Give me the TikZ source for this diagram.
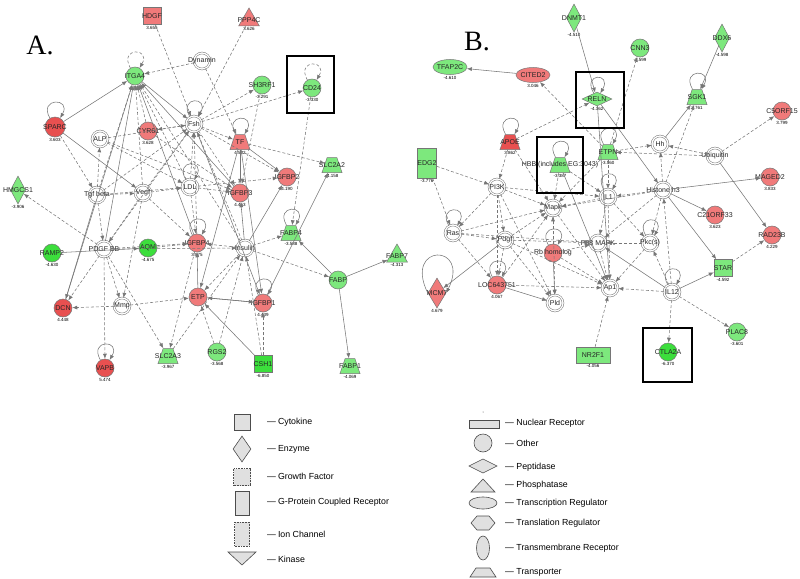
\documentclass[tikz,border=0pt]{standalone}
\usepackage{fontspec}
\setmainfont{Liberation Sans}
\newfontfamily\panelfont{Liberation Serif}
\usetikzlibrary{positioning,shapes.geometric,arrows.meta,calc}
\definecolor{upreg}{RGB}{240,122,122}
\definecolor{upstrong}{RGB}{232,80,80}
\definecolor{downreg}{RGB}{125,232,125}
\definecolor{downstrong}{RGB}{60,222,60}
\definecolor{linkgray}{RGB}{118,118,118}
\tikzset{every loop/.style={looseness=3,min distance=24pt,out=120,in=60}}

\begin{document}
\begin{tikzpicture}[x=1pt,y=-1pt,
  base/.style={draw=linkgray,line width=0.5pt,inner sep=0pt},
  other/.style={base,circle,minimum size=18pt},
  fam/.style={base,circle,double=white,double distance=1.3pt,minimum size=16pt,fill=white},
  up/.style={fill=upreg},
  upp/.style={fill=upstrong},
  down/.style={fill=downreg},
  downn/.style={fill=downstrong},
  cyto/.style={base,rectangle,minimum width=18pt,minimum height=17pt},
  enz/.style={base,diamond,minimum width=15pt,minimum height=28pt},
  pep/.style={base,diamond,minimum width=30pt,minimum height=14pt},
  phos/.style={base,regular polygon,regular polygon sides=3,minimum size=24pt},
  trans/.style={base,trapezium,trapezium left angle=62,trapezium right angle=62,
    trapezium stretches=true,inner sep=1pt,minimum width=20pt,minimum height=15pt},
  treg/.style={base,ellipse,minimum width=34pt,minimum height=15pt},
  gpcr/.style={base,rectangle,minimum width=19pt,minimum height=30pt},
  nucrec/.style={base,rectangle,minimum width=34pt,minimum height=16pt},
  lbl/.style={font=\fontsize{7}{7}\selectfont,text=black!85,inner sep=0pt},
  val/.style={font=\fontsize{4.5}{4.5}\selectfont,inner sep=1pt},
  link/.style={draw=linkgray,line width=0.55pt,-{Latex[length=5pt,width=4pt]}},
  dlink/.style={link,dash pattern=on 3pt off 2pt},
  hilite/.style={draw=black,line width=2.3pt},
  panel/.style={font=\panelfont\fontsize{28}{28}\selectfont},
  key/.style={draw=black!70,fill=black!12,line width=0.6pt},
  keytxt/.style={font=\fontsize{8.8}{9}\selectfont,anchor=west,inner sep=0pt}]
\useasboundingbox (0,0) rectangle (800,578);

% Panel letters
\node[panel] (lettera) at (40,45) {A.};
\node[panel] (letterb) at (477,42) {B.};

%%% Network A
\node[cyto,up,label={[lbl]center:HDGF},label={[val]below:3.655}] (hdgf) at (152,16) {};
\node[phos,up,label={[lbl]center:PPP4C},label={[val]below:3.626}] (ppp) at (249,20) {};
\node[fam,label={[lbl]center:Dynamin}] (dyn) at (202,61) {};
\node[other,down,label={[lbl]center:ITGA4},label={[val]below:-3.807}] (itga) at (135,76) {};
\node[other,down,label={[lbl]center:SH3RF1},label={[val]below:-3.291}] (shrf) at (262,85) {};
\node[other,down,label={[lbl]center:CD24},label={[val]below:-3.330}] (cdtf) at (312,88) {};
\node[fam,label={[lbl]center:Fsh}] (fsh) at (194,124) {};
\node[trans,up,label={[lbl]center:TF},label={[val]below:4.502}] (tf) at (240,142) {};
\node[other,up,label={[lbl]center:CYR61},label={[val]below:3.628}] (cyr) at (148,131) {};
\node[fam,label={[lbl]center:ALP}] (alp) at (100,139) {};
\node[other,upp,minimum size=20pt,label={[lbl]center:SPARC},label={[val]below:3.603}] (sparc) at (55,127) {};
\node[enz,down,label={[lbl]center:HMGCS1},label={[val]below:-3.906}] (hmg) at (18,190) {};
\node[fam,label={[lbl]center:Tgf beta}] (tgfb) at (97,195) {};
\node[fam,label={[lbl]center:Vegf}] (vegf) at (143,193) {};
\node[fam,label={[lbl]center:LDL}] (ldl) at (190,187) {};
\node[other,up,label={[lbl]center:IGFBP3},label={[val]below:4.453}] (bpiii) at (240,193) {};
\node[other,up,label={[lbl]center:IGFBP2},label={[val]below:4.190}] (bpii) at (287,177) {};
\node[trans,down,label={[lbl]center:SLC2A2},label={[val]below:-4.158}] (slcb) at (332,165) {};
\node[fam,label={[lbl]center:PDGF BB}] (pdgf) at (104,249) {};
\node[other,downn,label={[lbl]center:RAMP2},label={[val]below:-4.630}] (ramp) at (52,253) {};
\node[other,downn,label={[lbl]center:AQM},label={[val]below:-4.675}] (aqm) at (148,248) {};
\node[other,up,label={[lbl]center:IGFBP4},label={[val]below:3.875}] (bpiv) at (197,243) {};
\node[fam,label={[lbl]center:Insulin}] (ins) at (245,248) {};
\node[trans,down,label={[lbl]center:FABP4},label={[val]below:-3.588}] (fabpiv) at (291,233) {};
\node[other,down,label={[lbl]center:FABP}] (fabp) at (338,280) {};
\node[phos,down,label={[lbl]center:FABP7},label={[val]below:-4.313}] (fabpvii) at (397,256) {};
\node[trans,down,label={[lbl]center:FABP1},label={[val]below:-4.069}] (fabpi) at (350,366) {};
\node[fam,label={[lbl]center:Mmp}] (mmp) at (122,306) {};
\node[other,upp,label={[lbl]center:DCN},label={[val]below:4.448}] (dcn) at (63,308) {};
\node[other,upp,label={[lbl]center:VAPB},label={[val]below:5.474}] (vapb) at (105,368) {};
\node[trans,down,label={[lbl]center:SLC2A3},label={[val]below:-3.967}] (slcc) at (168,356) {};
\node[other,down,label={[lbl]center:RGS2},label={[val]below:-3.568}] (rgs) at (217,352) {};
\node[cyto,downn,label={[lbl]center:CSH1},label={[val]below:-6.850}] (csh) at (263,364) {};
\node[other,up,label={[lbl]center:ETP}] (etp) at (198,297) {};
\node[other,up,label={[lbl]center:IGFBP1},label={[val]below:4.439}] (bpi) at (263,303) {};

% Links A
\foreach \s/\t in {sparc/itga,sparc/vegf,ramp/aqm,itga/fsh,tf/bpii,tf/bpiii,tf/bpi,tf/etp,
  etp/bpi,bpi/etp,etp/bpiv,fabp/fabpiv,fabp/fabpvii,fabp/fabpi,csh/etp,bpiv/itga,
  tgfb/dcn,bpi/slcb,pdgf/itga,bpiii/itga,dcn/itga,fsh/bpi,ins/bpii,ins/bpiii}
  \draw[link] (\s) -- (\t);
\foreach \s/\t in {hdgf/fsh,ppp/fsh,dyn/itga,dyn/tf,fsh/cyr,fsh/shrf,fsh/cdtf,fsh/tf,fsh/bpii,
  fsh/bpiii,alp/fsh,vegf/fsh,tgfb/fsh,ldl/fsh,ins/fsh,bpiv/fsh,pdgf/fsh,tgfb/itga,vegf/itga,
  ldl/itga,ins/itga,cyr/itga,sparc/tgfb,tgfb/alp,alp/ldl,alp/bpiii,tgfb/pdgf,vegf/pdgf,
  pdgf/hmg,pdgf/dcn,pdgf/mmp,pdgf/vapb,pdgf/slcc,pdgf/bpiv,pdgf/ins,vegf/mmp,mmp/dcn,mmp/etp,
  aqm/bpiv,ins/bpiv,ins/etp,ins/fabpiv,ins/fabp,rgs/ins,csh/ins,csh/bpi,bpiv/slcc,
  ldl/bpii,ldl/bpiii,tgfb/ldl,vegf/ldl,cdtf/fabpiv,shrf/bpiii,tf/slcb,rgs/etp,slcc/ins,
  vegf/bpiv,ldl/bpiv,tgfb/vegf,cyr/bpiii}
  \draw[dlink] (\s) -- (\t);
% Self loops A
\foreach \n in {fsh,tf,sparc,ldl,vapb,fabpiv,bpi,bpiv}
  \draw[link] (\n) to[loop above] (\n);
\foreach \n in {itga,cdtf}
  \draw[dlink] (\n) to[loop above] (\n);
\draw[hilite] (287,56) rectangle (334,113);

%%% Network B
\node[enz,down,label={[lbl]center:DNMT1},label={[val]below:-4.510}] (dnmt) at (574,18) {};
\node[other,down,label={[lbl]center:CNN3},label={[val]below:-3.599}] (cnn) at (640,48) {};
\node[enz,down,label={[lbl]center:DDX6},label={[val]below:-4.598}] (ddx) at (722,38) {};
\node[treg,down,label={[lbl]center:TFAP2C},label={[val]below:-4.610}] (tfap) at (450,67) {};
\node[treg,up,label={[lbl]center:CITED2},label={[val]below:3.046}] (cited) at (533,75) {};
\node[pep,down,label={[lbl]center:RELN},label={[val]below:-4.362}] (reln) at (597,99) {};
\node[trans,down,label={[lbl]center:SGK1},label={[val]below:3.761}] (sgk) at (697,97) {};
\node[other,up,label={[lbl]center:C5ORF15},label={[val]below:3.799}] (cfive) at (782,111) {};
\node[trans,upp,label={[lbl]center:APOE},label={[val]below:3.862}] (apoe) at (510,142) {};
\node[trans,down,label={[lbl]center:{HBB (includes EG:3043)}},label={[val]below:-3.387}] (hbb) at (560,165) {};
\node[trans,down,label={[lbl]center:ETPN},label={[val]below:-3.560}] (etpn) at (608,152) {};
\node[gpcr,down,label={[lbl]center:EDG2},label={[val]below:-3.776}] (edg) at (427,163) {};
\node[fam,label={[lbl]center:Hh}] (hh) at (660,144) {};
\node[fam,label={[lbl]center:Ubiquitin}] (ubq) at (715,156) {};
\node[fam,label={[lbl]center:Histone h3}] (hist) at (663,190) {};
\node[other,up,label={[lbl]center:MAGED2},label={[val]below:3.833}] (maged) at (770,177) {};
\node[other,up,label={[lbl]center:C21ORF33},label={[val]below:3.623}] (ctwo) at (715,215) {};
\node[other,up,label={[lbl]center:RAD23B},label={[val]below:4.229}] (rad) at (772,235) {};
\node[cyto,down,label={[lbl]center:STAR},label={[val]below:-4.592}] (star) at (723,268) {};
\node[fam,label={[lbl]center:IL12}] (iltw) at (672,292) {};
\node[other,down,label={[lbl]center:PLAC8},label={[val]below:-3.601}] (plac) at (737,332) {};
\node[other,downn,label={[lbl]center:CTLA2A},label={[val]below:-6.370}] (ctla) at (668,352) {};
\node[nucrec,down,label={[lbl]center:NR2F1},label={[val]below:-4.056}] (nrtf) at (593,355) {};
\node[fam,label={[lbl]center:Ap1}] (apone) at (610,288) {};
\node[fam,label={[lbl]center:Pkc(s)}] (pkc) at (650,243) {};
\node[fam,label={[lbl]center:P38 MAPK}] (pte) at (598,243) {};
\node[other,up,label={[lbl]center:Rb homolog}] (rb) at (553,253) {};
\node[fam,label={[lbl]center:Pdgf}] (pdgfb) at (505,240) {};
\node[fam,label={[lbl]center:Ras}] (ras) at (453,233) {};
\node[enz,up,minimum width=18pt,minimum height=30pt,label={[lbl]center:MCM7},label={[val]below:4.679}] (mcm) at (437,293) {};
\node[other,up,label={[lbl]center:LOC643751},label={[val]below:4.067}] (loc) at (497,285) {};
\node[fam,label={[lbl]center:Pld}] (pld) at (555,303) {};
\node[fam,label={[lbl]center:PI3K}] (pik) at (497,187) {};
\node[fam,label={[lbl]center:Mapk}] (mapk) at (553,208) {};
\node[fam,label={[lbl]center:IL1}] (ilone) at (608,197) {};

% Links B
\foreach \s/\t in {dnmt/reln,cited/tfap,ddx/sgk,reln/hist,hist/maged,hist/ctwo,hist/star,
  ubq/rad,iltw/star,iltw/pte,hbb/apone,hh/sgk,pdgfb/mcm,rb/pld,loc/pld,reln/apone}
  \draw[link] (\s) -- (\t);
\foreach \s/\t in {apoe/reln,etpn/cited,etpn/cnn,ubq/hh,ubq/cfive,ubq/etpn,hist/sgk,hist/hh,
  star/rad,iltw/plac,iltw/ctla,iltw/apone,iltw/hist,nrtf/apone,edg/pik,edg/ras,pik/ras,
  pik/mapk,pik/pdgfb,pik/ilone,apoe/pik,hbb/mapk,etpn/mapk,etpn/ilone,etpn/hh,ilone/mapk,
  ilone/pte,ilone/apone,ilone/pkc,mapk/apone,mapk/pld,ras/pdgfb,ras/mapk,ras/pte,pdgfb/loc,
  pdgfb/pld,pdgfb/mapk,pdgfb/pte,loc/mapk,rb/apone,rb/pte,rb/mapk,pte/apone,pkc/apone,
  pkc/pte,hist/mapk,hist/pte,hist/pkc,hist/ilone,iltw/pkc,pik/pld,loc/apone,pdgfb/apone,
  pik/loc,ras/loc,hbb/ilone,apoe/mapk}
  \draw[dlink] (\s) -- (\t);
% Self loops B
\foreach \n in {reln,sgk,apoe,hbb,etpn,ilone,pkc,rb,loc,ras,iltw}
  \draw[link] (\n) to[loop above] (\n);
\draw[link] (mcm.west) .. controls (403,243) and (471,243) .. (mcm.east);
\draw[hilite] (576,72) rectangle (624,128);
\draw[hilite] (537,137) rectangle (583,193);
\draw[hilite] (643,328) rectangle (692,382);

%%% Legend, left column
\node[key,rectangle,minimum size=16pt] (kcyto) at (242,422) {};
\node[key,diamond,minimum width=18pt,minimum height=26pt,inner sep=0pt] (kenz) at (242,449) {};
\node[key,rectangle,densely dotted,minimum size=17pt] (kgrow) at (242,477) {};
\node[key,rectangle,minimum width=14pt,minimum height=24pt] (kgpcr) at (242,503) {};
\node[key,rectangle,densely dotted,minimum width=15pt,minimum height=24pt] (kion) at (242,534) {};
\draw[key] (228,552) -- (256,552) -- (242,565) -- cycle;
\node[keytxt] (tcyto) at (267,422) {—\hspace{2pt}Cytokine};
\node[keytxt] (tenz) at (267,449) {—\hspace{2pt}Enzyme};
\node[keytxt] (tgrow) at (267,476) {—\hspace{2pt}Growth Factor};
\node[keytxt] (tgpcr) at (267,502) {—\hspace{2pt}G-Protein Coupled Receptor};
\node[keytxt] (tion) at (267,534) {—\hspace{2pt}Ion Channel};
\node[keytxt] (tkin) at (267,559) {—\hspace{2pt}Kinase};

%%% Legend, right column
\fill[black!70] (483,412) circle (0.5);
\node[key,rectangle,minimum width=30pt,minimum height=8pt] (knuc) at (484,424) {};
\node[key,circle,minimum size=18pt] (koth) at (483,443) {};
\draw[key] (469,466) -- (483,459) -- (497,466) -- (483,473) -- cycle;
\draw[key] (471,492) -- (495,492) -- (483,479) -- cycle;
\node[key,ellipse,minimum width=28pt,minimum height=12pt] (ktreg) at (483,503) {};
\draw[key] (471,523) -- (477,516) -- (489,516) -- (495,523) -- (489,530) -- (477,530) -- cycle;
\node[key,ellipse,minimum width=13pt,minimum height=24pt] (ktm) at (483,548) {};
\draw[key] (470,577) -- (476,568) -- (490,568) -- (496,577) -- cycle;
\node[keytxt] (tnuc) at (505,423) {— Nuclear Receptor};
\node[keytxt] (toth) at (505,443) {— Other};
\node[keytxt] (tpep) at (505,467) {— Peptidase};
\node[keytxt] (tphos) at (505,485) {— Phosphatase};
\node[keytxt] (ttreg) at (505,503) {— Transcription Regulator};
\node[keytxt] (ttrl) at (505,523) {— Translation Regulator};
\node[keytxt] (ttm) at (505,548) {— Transmembrane Receptor};
\node[keytxt] (ttr) at (505,572) {— Transporter};
\end{tikzpicture}
\end{document}
